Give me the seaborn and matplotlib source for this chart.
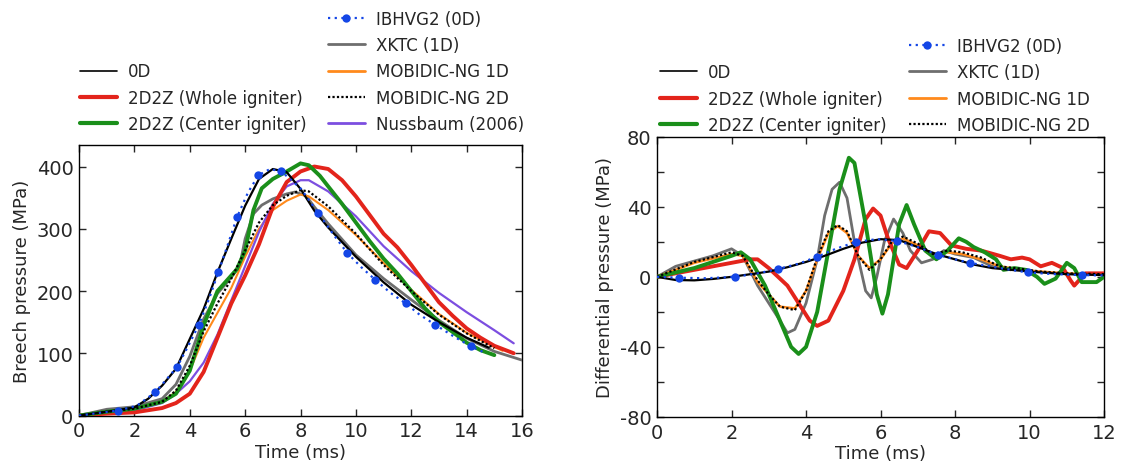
import numpy as np
import pandas as pd
import matplotlib
matplotlib.use("Agg")
import matplotlib.pyplot as plt
import seaborn as sns
from matplotlib.ticker import MultipleLocator
from matplotlib.lines import Line2D

# ---------------- data: breech pressure (left) ----------------
bp_0d_t = [0, 1, 2, 2.5, 3, 3.5, 4, 4.5, 5, 5.5, 6, 6.5, 7, 7.5, 8, 8.5, 9, 10, 11, 12, 13, 14, 14.8]
bp_0d_p = [0, 6, 13, 27, 48, 75, 123, 171, 230, 284, 337, 380, 396, 391, 364, 329, 302, 255, 214, 178, 150, 125, 109]

bp_ib_t = [0, 0.7, 1.42, 2.1, 2.74, 3.1, 3.54, 3.9, 4.32, 4.7, 5.03, 5.4, 5.71, 6.1, 6.48, 6.9, 7.31,
           8.0, 8.63, 9.2, 9.69, 10.2, 10.7, 11.25, 11.8, 12.3, 12.86, 13.5, 14.15, 14.7]
bp_ib_p = [0, 4, 8, 16, 37, 55, 78, 108, 145, 188, 230, 278, 319, 358, 386, 396, 392,
           365, 326, 290, 261, 238, 218, 197, 180, 162, 146, 128, 111, 100]
bp_ib_marks = [2, 4, 6, 8, 10, 12, 14, 16, 18, 20, 22, 24, 26, 28]

bp_xk_t = [0, 1, 2, 3, 3.5, 4, 4.5, 5, 5.5, 5.8, 6, 6.3, 6.6, 7, 7.5, 7.8, 8.2, 8.5, 9, 10, 11, 12, 13, 14, 15, 16]
bp_xk_p = [0, 10, 14, 27, 50, 95, 155, 196, 222, 240, 284, 324, 338, 348, 356, 359, 353, 335, 308, 258, 220, 186, 153, 124, 103, 89]

bp_m1_t = [0, 1, 2, 3, 3.5, 4, 4.5, 5, 5.5, 6, 6.5, 7, 7.5, 8, 8.3, 9, 10, 11, 12, 13, 14, 15, 15.3]
bp_m1_p = [0, 6, 11, 22, 38, 72, 125, 165, 205, 255, 300, 330, 345, 355, 352, 330, 290, 245, 202, 163, 133, 110, 104]

bp_m2_t = [0, 1, 2, 3, 3.5, 4, 4.5, 5, 5.5, 6, 6.5, 7, 7.5, 8, 8.3, 9, 10, 11, 12, 13, 14, 15]
bp_m2_p = [0, 6, 11, 22, 40, 80, 135, 180, 220, 265, 310, 338, 353, 362, 360, 336, 292, 242, 200, 162, 132, 108]

bp_rw_t = [0, 1, 2, 3, 3.5, 4, 4.5, 5, 5.5, 6, 6.5, 7, 7.5, 8, 8.5, 9, 9.5, 10, 10.5, 11, 11.5, 12, 12.5, 13, 13.5, 14, 14.5, 15, 15.7]
bp_rw_p = [0, 3, 5, 12, 20, 35, 70, 125, 180, 225, 275, 335, 375, 392, 400, 396, 378, 352, 322, 292, 270, 242, 212, 182, 160, 140, 125, 112, 100]

bp_gc_t = [0, 1, 2, 3, 3.5, 4, 4.5, 5, 5.3, 5.7, 6, 6.3, 6.6, 7, 7.5, 8, 8.3, 8.7, 9, 9.5, 10, 10.5, 11, 11.5, 12, 12.5, 13, 13.5, 14, 14.5, 15]
bp_gc_p = [0, 6, 11, 22, 35, 72, 145, 200, 215, 235, 265, 330, 365, 380, 392, 405, 402, 385, 368, 340, 310, 280, 252, 228, 200, 172, 150, 134, 117, 105, 97]

bp_nu_t = [0, 1, 2, 3, 3.5, 4, 4.5, 5, 5.5, 6, 6.5, 7, 7.5, 8, 8.3, 9, 10, 11, 12, 13, 14, 15, 15.7]
bp_nu_p = [0, 4, 8, 20, 35, 55, 85, 130, 185, 240, 295, 340, 368, 378, 378, 360, 320, 272, 232, 197, 166, 137, 116]

# ---------------- data: differential pressure (right) ----------------
dp_0d_t = [0, 0.5, 1, 1.5, 2, 2.5, 3, 3.5, 4, 4.5, 5, 5.5, 6, 6.5, 7, 7.5, 8, 8.5, 9, 10, 11, 12]
dp_0d_p = [0, -1.8, -2, -1.2, 0, 1.5, 3, 5.5, 8.5, 12, 16, 19.5, 21.5, 21, 17, 13, 10, 7, 5, 3, 1.5, 1]

dp_ib_t = [0, 0.6, 1.3, 2.1, 2.7, 3.25, 3.8, 4.3, 4.8, 5.35, 5.9, 6.45, 7.0, 7.55, 8.0, 8.4, 9.2, 9.95, 10.7, 11.4, 12]
dp_ib_p = [0, -0.5, -0.8, 0, 2, 4.5, 7.5, 11.5, 16, 20, 21.5, 20.5, 17, 12.5, 10, 8, 5, 2.5, 1.5, 1, 0.8]
dp_ib_marks = [1, 3, 5, 7, 9, 11, 13, 15, 17, 19]

dp_xk_t = [0, 0.5, 1, 1.5, 2, 2.3, 2.7, 3, 3.3, 3.5, 3.7, 4, 4.3, 4.5, 4.7, 4.9, 5.1, 5.3, 5.6, 5.75, 5.9, 6.1, 6.35, 6.6, 6.8, 7.1, 7.4, 7.7, 8, 8.5, 9, 9.5]
dp_xk_p = [0, 6, 9, 12, 16, 12, -5, -15, -25, -32, -30, -15, 10, 35, 50, 54, 45, 20, -8, -12, 0, 20, 33, 25, 15, 8, 10, 15, 13, 11, 6, 4]

dp_m1_t = [0, 1, 2, 2.3, 2.7, 3, 3.3, 3.7, 4, 4.3, 4.6, 4.85, 5.1, 5.4, 5.7, 6, 6.3, 6.6, 7, 7.4, 7.8, 8.2, 8.7, 9.2, 9.8, 10.3, 11, 12]
dp_m1_p = [0, 8, 13, 12, -3, -10, -17, -18, -8, 10, 25, 29, 25, 12, 5, 10, 19, 22, 18, 13, 14, 13, 10, 6, 4, 3, 2, 1.5]

dp_m2_t = [0, 1, 2, 2.3, 2.7, 3, 3.3, 3.7, 4, 4.3, 4.6, 4.85, 5.1, 5.4, 5.7, 6, 6.3, 6.6, 7, 7.4, 7.8, 8.2, 8.7, 9.2, 9.8, 10.3, 11, 12]
dp_m2_p = [0, 8.5, 14, 12, -2, -10, -17, -19, -8, 11, 26, 29.5, 26, 12, 4, 10, 20, 23, 19, 13, 15, 14, 11, 6, 4.5, 3, 2, 1.5]

dp_rw_t = [0, 1, 2, 2.5, 2.7, 3, 3.5, 3.8, 4.1, 4.3, 4.6, 5, 5.3, 5.6, 5.8, 6, 6.2, 6.5, 6.7, 7, 7.3, 7.6, 7.9, 8.3, 8.7, 9.2, 9.5, 9.8, 10, 10.3, 10.6, 10.9, 11.1, 11.2, 11.5, 11.8, 12]
dp_rw_p = [0, 4, 8, 10, 10, 5, -5, -15, -25, -28, -25, -8, 10, 33, 39, 35, 22, 7, 5, 15, 26, 25, 18, 16, 15, 12, 10, 11, 10, 6, 8, 5, -2, -5, 2, 2, 2]

dp_gc_t = [0, 1, 2, 2.25, 2.5, 2.9, 3.3, 3.6, 3.8, 4.0, 4.3, 4.6, 4.9, 5.15, 5.3, 5.6, 5.9, 6.05, 6.2, 6.5, 6.7, 6.9, 7.2, 7.5, 7.8, 8.1, 8.3, 8.5, 8.8, 9.1, 9.3, 9.6, 9.9, 10.2, 10.4, 10.7, 11.0, 11.2, 11.4, 11.6, 11.8, 12]
dp_gc_p = [0, 5, 12, 14, 10, -5, -25, -40, -44, -40, -20, 15, 50, 68, 65, 30, -10, -21, -10, 30, 41, 30, 15, 10, 15, 22, 20, 17, 14, 10, 4, 5, 4, 0, -4, -1, 8, 5, -3, -3, -3, 0]

# ---------------- styling ----------------
sns.set_style("ticks")
plt.rcParams['font.family'] = ['DejaVu Sans']
plt.rcParams['axes.unicode_minus'] = False

C_BLACK = "#000000"
C_RED = "#e3241b"
C_GREEN = "#1a8f1a"
C_BLUE = "#1446e6"
C_GRAY = "#6e6e6e"
C_ORANGE = "#ff8a1c"
C_PURPLE = "#7c4ee0"

fig = plt.figure(figsize=(11.26, 4.77), dpi=100)
axL = fig.add_axes([0.0702, 0.1268, 0.3934, 0.5677])
axR = fig.add_axes([0.5835, 0.1237, 0.3970, 0.5876])


def line(ax, t, p, **kw):
    sns.lineplot(x=np.asarray(t, float), y=np.asarray(p, float), ax=ax, sort=False,
                 estimator=None, **kw)


# left panel
line(axL, bp_ib_t, bp_ib_p, color=C_BLUE, linestyle=(0, (1, 2)), lw=1.6,
     marker='o', markersize=6, markevery=bp_ib_marks, markeredgewidth=0, zorder=9)
line(axL, bp_xk_t, bp_xk_p, color=C_GRAY, lw=2.0, zorder=3)
line(axL, bp_m1_t, bp_m1_p, color=C_ORANGE, lw=1.5, zorder=4)
line(axL, bp_nu_t, bp_nu_p, color=C_PURPLE, lw=1.6, zorder=4)
line(axL, bp_rw_t, bp_rw_p, color=C_RED, lw=2.8, zorder=5)
line(axL, bp_gc_t, bp_gc_p, color=C_GREEN, lw=2.8, zorder=6)
line(axL, bp_m2_t, bp_m2_p, color=C_BLACK, linestyle=(0, (1, 1)), lw=1.6, zorder=7)
line(axL, bp_0d_t, bp_0d_p, color=C_BLACK, lw=1.6, zorder=8)

# right panel
line(axR, dp_xk_t, dp_xk_p, color=C_GRAY, lw=2.0, zorder=3)
line(axR, dp_m1_t, dp_m1_p, color=C_ORANGE, lw=1.8, zorder=4)
line(axR, dp_rw_t, dp_rw_p, color=C_RED, lw=2.8, zorder=5)
line(axR, dp_gc_t, dp_gc_p, color=C_GREEN, lw=2.8, zorder=6)
line(axR, dp_m2_t, dp_m2_p, color=C_BLACK, linestyle=(0, (1, 1)), lw=1.6, zorder=7)
line(axR, dp_0d_t, dp_0d_p, color=C_BLACK, lw=1.6, zorder=8)
line(axR, dp_ib_t, dp_ib_p, color=C_BLUE, linestyle=(0, (1, 2)), lw=1.6,
     marker='o', markersize=6, markevery=dp_ib_marks, markeredgewidth=0, zorder=9)

tickfont = 14
for ax in (axL, axR):
    for s in ax.spines.values():
        s.set_visible(True)
        s.set_linewidth(1.0)
        s.set_color('black')
    ax.tick_params(which='both', direction='in', top=True, right=True, length=5, width=1,
                   labelsize=tickfont, pad=4)

axL.set_xlim(0, 16)
axL.set_ylim(0, 435)
axL.xaxis.set_major_locator(MultipleLocator(2))
axL.yaxis.set_major_locator(MultipleLocator(100))
axL.set_xlabel("Time (ms)", fontsize=13, labelpad=2)
axL.set_ylabel("Breech pressure (MPa)", fontsize=13, labelpad=4)

axR.set_xlim(0, 12)
axR.set_ylim(-80, 80)
axR.xaxis.set_major_locator(MultipleLocator(2))
axR.yaxis.set_major_locator(MultipleLocator(40))
axR.yaxis.set_minor_locator(MultipleLocator(20))
axR.tick_params(which='minor', length=5)
axR.set_xlabel("Time (ms)", fontsize=13, labelpad=2)
axR.set_ylabel("Differential pressure (MPa)", fontsize=13, labelpad=4)


def H(color, lw=1.6, ls='-', marker=None):
    return Line2D([], [], color=color, lw=lw, linestyle=ls, marker=marker, markersize=6,
                  markeredgewidth=0)


legkw = dict(loc='lower left', frameon=False, fontsize=12, handlelength=2.2,
             handletextpad=0.7, labelspacing=0.5, borderpad=0, borderaxespad=0)

col1_labels = ["0D", "2D2Z (Whole igniter)", "2D2Z (Center igniter)"]
col1_handles = [H(C_BLACK, 1.2), H(C_RED, 3), H(C_GREEN, 3)]
col2_labels = ["IBHVG2 (0D)", "XKTC (1D)", "MOBIDIC-NG 1D", "MOBIDIC-NG 2D", "Nussbaum (2006)"]
col2_handles = [H(C_BLUE, 1.6, (0, (1, 2)), 'o'), H(C_GRAY, 2), H(C_ORANGE, 2),
                H(C_BLACK, 1.6, (0, (1, 1))), H(C_PURPLE, 2)]

fig.legend(col1_handles, col1_labels, bbox_to_anchor=(80 / 1126, 1 - 134 / 477), **legkw)
fig.legend(col2_handles, col2_labels, bbox_to_anchor=(328 / 1126, 1 - 134 / 477), **legkw)
fig.legend(col1_handles, col1_labels, bbox_to_anchor=(660 / 1126, 1 - 135 / 477), **legkw)
fig.legend(col2_handles[:4], col2_labels[:4], bbox_to_anchor=(909 / 1126, 1 - 135 / 477), **legkw)

fig.savefig("out.png", dpi=100)
